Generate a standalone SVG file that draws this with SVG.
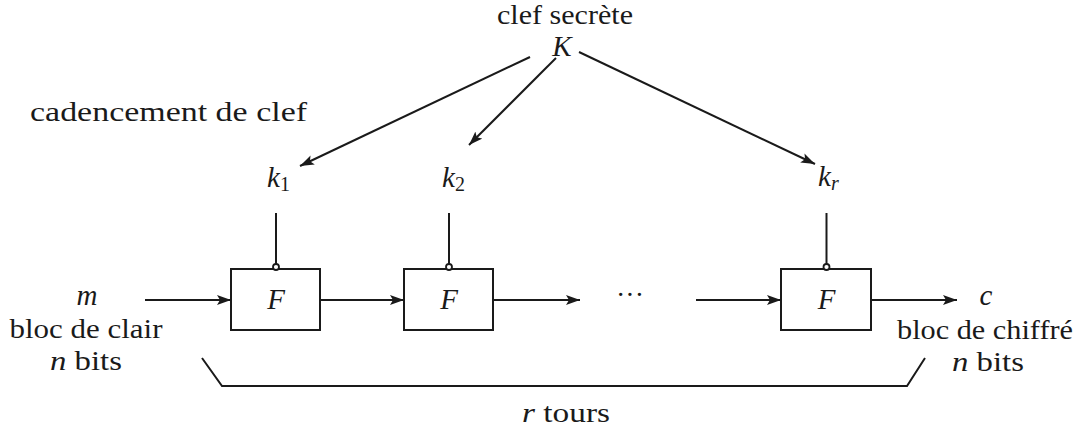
<svg xmlns="http://www.w3.org/2000/svg" width="1080" height="429" viewBox="0 0 1080 429">
  <defs>
    <marker id="arrow" viewBox="0 0 14 10" refX="14" refY="5" markerWidth="14" markerHeight="10" markerUnits="userSpaceOnUse" orient="auto">
      <path d="M0,0 L14,5 L0,10 L3,5 Z" fill="#1a1a1a"/>
    </marker>
  </defs>
  <style>
    text { font-family: 'Liberation Serif', 'Times New Roman', Times, serif; fill: #1a1a1a; }
    .txt { font-size: 28px; }
    .math { font-style: italic; font-size: 29px; }
    .sub { font-style: normal; font-size: 20px; }
    .box { fill: #ffffff; stroke: #1a1a1a; stroke-width: 2; }
    .line { fill: none; stroke: #1a1a1a; stroke-width: 2; }
    .port { fill: #ffffff; stroke: #1a1a1a; stroke-width: 1.8; }
  </style>
  <rect width="1080" height="429" fill="#ffffff"/>

  <!-- master key -->
  <g id="key">
    <text class="txt" x="565" y="24" text-anchor="middle" font-size="24" textLength="136" lengthAdjust="spacingAndGlyphs">clef secrète</text>
    <text class="math" x="562" y="56" text-anchor="middle" font-size="28">K</text>
  </g>

  <text class="txt" x="30" y="121" textLength="277" lengthAdjust="spacingAndGlyphs">cadencement de clef</text>

  <!-- round keys -->
  <g id="k1"><text class="math" x="267" y="187">k<tspan class="sub" dy="4">1</tspan></text></g>
  <g id="k2"><text class="math" x="442" y="187">k<tspan class="sub" dy="4">2</tspan></text></g>
  <g id="kr"><text class="math" x="818" y="186">k<tspan font-size="20" dy="4">r</tspan></text></g>

  <!-- round functions -->
  <g id="round1">
    <rect class="box" x="231" y="269" width="89" height="61"/>
    <text class="math" x="276" y="309" text-anchor="middle">F</text>
  </g>
  <g id="round2">
    <rect class="box" x="404" y="269" width="89" height="61"/>
    <text class="math" x="449" y="309" text-anchor="middle">F</text>
  </g>
  <g id="roundr">
    <rect class="box" x="781" y="269" width="90" height="61"/>
    <text class="math" x="826.5" y="309" text-anchor="middle">F</text>
  </g>

  <!-- plaintext / ciphertext -->
  <g id="plaintext">
    <text class="math" x="87" y="305" text-anchor="middle">m</text>
    <text class="txt" x="86" y="338" text-anchor="middle" textLength="153" lengthAdjust="spacingAndGlyphs">bloc de clair</text>
    <text class="txt" x="86" y="370" text-anchor="middle" textLength="72" lengthAdjust="spacingAndGlyphs"><tspan font-style="italic">n</tspan> bits</text>
  </g>
  <g id="ciphertext">
    <text class="math" x="986" y="305" text-anchor="middle">c</text>
    <text class="txt" x="985" y="339" text-anchor="middle" textLength="176" lengthAdjust="spacingAndGlyphs">bloc de chiffré</text>
    <text class="txt" x="988" y="371" text-anchor="middle" textLength="72" lengthAdjust="spacingAndGlyphs"><tspan font-style="italic">n</tspan> bits</text>
  </g>

  <text class="txt" x="566" y="422" text-anchor="middle" textLength="88" lengthAdjust="spacingAndGlyphs"><tspan font-style="italic">r</tspan> tours</text>
  <text class="txt" x="630" y="304" text-anchor="middle" font-size="17">···</text>

  <!-- connectors -->
  <g id="connectors">
    <line class="line" x1="530" y1="57" x2="300" y2="166" marker-end="url(#arrow)"/>
    <line class="line" x1="556" y1="58" x2="469" y2="145" marker-end="url(#arrow)"/>
    <line class="line" x1="579" y1="52" x2="815" y2="164" marker-end="url(#arrow)"/>

    <line class="line" x1="276" y1="213" x2="276" y2="266"/>
    <line class="line" x1="449" y1="213" x2="449" y2="266"/>
    <line class="line" x1="826.5" y1="213" x2="826.5" y2="266"/>
    <circle class="port" cx="276" cy="267" r="3"/>
    <circle class="port" cx="449" cy="267" r="3"/>
    <circle class="port" cx="826.5" cy="267" r="3"/>

    <line class="line" x1="145" y1="300" x2="231" y2="300" marker-end="url(#arrow)"/>
    <line class="line" x1="320" y1="300" x2="404" y2="300" marker-end="url(#arrow)"/>
    <line class="line" x1="493" y1="300" x2="580" y2="300" marker-end="url(#arrow)"/>
    <line class="line" x1="696" y1="300" x2="781" y2="300" marker-end="url(#arrow)"/>
    <line class="line" x1="871" y1="300" x2="957" y2="300" marker-end="url(#arrow)"/>

    <polyline class="line" points="202,358 222,386 907,386 925,358"/>
  </g>
</svg>
